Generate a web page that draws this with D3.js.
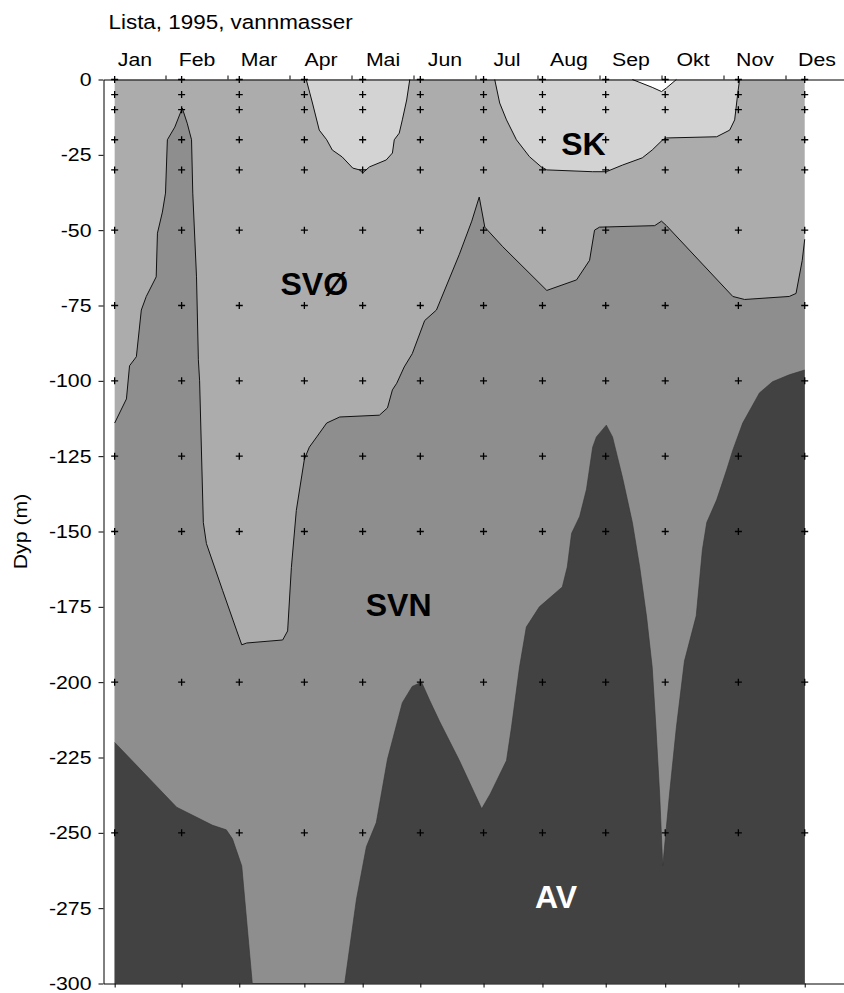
<!DOCTYPE html>
<html>
<head>
<meta charset="utf-8">
<script src="https://cdn.jsdelivr.net/npm/d3@7"></script>
<style>
  html, body { margin: 0; padding: 0; background: #fff; }
  svg { display: block; }
  text { font-family: "Liberation Sans", Arial, Helvetica, sans-serif; fill: #000; }
</style>
</head>
<body>
<svg id="chart" width="844" height="993"></svg>
<script>
// ---------------- DATA ----------------
const title = "Lista, 1995, vannmasser";
const yLabel = "Dyp (m)";
const monthLabels = ["Jan","Feb","Mar","Apr","Mai","Jun","Jul","Aug","Sep","Okt","Nov","Des"];
const depthTicks = [0,-25,-50,-75,-100,-125,-150,-175,-200,-225,-250,-275,-300];
// sampling dates as fractional month (0 = 1 Jan)
const sampleMonths = [0.18, 1.26, 2.19, 3.24, 4.18, 5.11, 6.13, 7.08, 8.10, 9.06, 10.24, 11.31];
const sampleDepths = [0,-5,-10,-20,-30,-50,-75,-100,-125,-150,-200,-250];

// upper limit of SVN (below SVØ), [month, depth]
const svnTop = [
  [0.18,-114],[0.37,-106],[0.42,-95],[0.53,-92],[0.61,-76.5],[0.69,-72],[0.85,-65.5],
  [0.87,-51],[0.95,-44],[1.00,-37.7],[1.03,-20],[1.15,-15.8],[1.27,-9.5],[1.35,-14.5],
  [1.42,-20],[1.44,-37.7],[1.50,-65.5],[1.53,-93],[1.55,-100],[1.61,-147],[1.66,-154],
  [1.92,-169.5],[2.15,-183],[2.23,-187.6],[2.31,-187],[2.89,-186],[2.97,-183],[3.03,-162],
  [3.11,-143],[3.24,-126],[3.32,-122],[3.44,-118.6],[3.60,-114],[3.81,-112],[4.45,-111.4],
  [4.58,-109],[4.66,-103],[4.73,-100.8],[4.85,-95.4],[4.98,-91],[5.18,-80],[5.37,-76.5],
  [5.74,-58],[5.94,-47],[6.06,-39],[6.15,-49],[6.44,-55.5],[7.15,-70],[7.63,-66.5],
  [7.84,-60],[7.92,-50],[8.00,-49],[8.89,-48.5],[9.00,-47],[9.08,-48.5],[10.15,-72],
  [10.34,-73],[11.06,-72],[11.17,-71],[11.27,-60],[11.31,-53]
];

// upper limit of AV (below SVN), [month, depth]
const avTop = [
  [0.18,-220],[1.18,-241.5],[1.76,-247.5],[1.98,-249],[2.08,-252],[2.23,-261],[2.40,-300],
  [3.89,-300],[4.08,-272],[4.24,-254.6],[4.40,-246.6],[4.58,-225.6],[4.82,-206.8],
  [4.98,-201.4],[5.13,-200],[5.26,-206],[5.42,-213],[5.74,-226],[6.10,-242],[6.24,-237],
  [6.50,-226],[6.58,-215],[6.71,-195],[6.82,-181.7],[7.03,-175],[7.40,-168.4],[7.48,-161.8],
  [7.55,-150.6],[7.68,-145],[7.79,-136],[7.89,-122],[7.95,-118.6],[8.11,-114.7],[8.21,-118.6],
  [8.37,-132],[8.53,-147],[8.65,-162],[8.76,-178.4],[8.85,-195],[8.91,-215],[8.97,-237],
  [9.02,-261],[9.07,-250],[9.13,-237],[9.24,-215],[9.37,-193],[9.56,-178],[9.66,-156],
  [9.73,-147],[9.89,-139.5],[10.05,-129.6],[10.15,-123],[10.31,-114],[10.58,-104],
  [10.79,-100.3],[11.06,-98],[11.31,-96.4]
];

// lower limit of SK, two lenses, [month, depth]
const skLensSpring = [
  [3.27,0],[3.37,-7.8],[3.48,-16.8],[3.60,-20],[3.69,-23.4],[3.85,-25.7],[4.02,-29.4],
  [4.13,-30],[4.18,-31],[4.29,-29],[4.56,-26.7],[4.66,-24.4],[4.69,-20],[4.77,-17.8],
  [4.82,-13.4],[4.89,-6.8],[4.94,0]
];
const skLensSummer = [
  [6.31,0],[6.39,-7.8],[6.50,-13.4],[6.66,-20],[6.87,-25.6],[7.06,-29],[7.15,-30],
  [7.89,-30.6],[8.11,-30.6],[8.37,-28.4],[8.69,-26],[8.85,-23.4],[9.02,-20],[9.08,-19.4],
  [9.89,-19],[10.10,-16.8],[10.18,-13.4],[10.23,-4.6],[10.26,0]
];
// small unclassified patch at the surface in September
const blankPatch = [[8.53,0],[8.85,-2.6],[9.00,-4],[9.08,-2.8],[9.24,0]];

// water-mass labels [name, month, depth]
const massNames = ["SVØ","SVN","SK","AV"];
const massMonths = [3.40, 4.76, 7.74, 7.30];
const massDepths = [-71.5, -178, -25, -275];

// ---------------- CHART ----------------
const colors = { SK: "#d3d3d3", SVO: "#acacac", SVN: "#8e8e8e", AV: "#424242" };
const svg = d3.select("#chart");
const x = d3.scaleLinear().domain([0, 12]).range([103.5, 847.5]);
const y = d3.scaleLinear().domain([0, -300]).range([79.5, 983.5]);
const SX = 1.15; // horizontal stretch of the reference typeface

function stretch(sel) {
  sel.each(function() {
    const t = d3.select(this);
    const tx = +t.attr("x") || 0, ty = +t.attr("y") || 0;
    t.attr("x", 0).attr("y", 0).attr("transform", `translate(${tx},${ty}) scale(${SX},1)`);
  });
}

const xStart = x(sampleMonths[0]), xEnd = x(sampleMonths[sampleMonths.length - 1]);

// base: SVØ
svg.append("rect")
  .attr("x", xStart).attr("y", y(0))
  .attr("width", xEnd - xStart).attr("height", y(-300) - y(0))
  .attr("fill", colors.SVO);

const areaBelow = d3.area().x(d => x(d[0])).y0(y(-300)).y1(d => y(d[1]));
const areaAbove = d3.area().x(d => x(d[0])).y0(y(0)).y1(d => y(d[1]));
const line = d3.line().x(d => x(d[0])).y(d => y(d[1]));

svg.append("path").datum(svnTop).attr("d", areaBelow).attr("fill", colors.SVN);
svg.append("path").datum(svnTop).attr("d", line)
  .attr("fill", "none").attr("stroke", "#111").attr("stroke-width", 1);

svg.append("path").datum(avTop).attr("d", areaBelow).attr("fill", colors.AV);
svg.append("path").datum(avTop).attr("d", line)
  .attr("fill", "none").attr("stroke", "#333").attr("stroke-width", 0.6);

[skLensSpring, skLensSummer].forEach(lens => {
  svg.append("path").datum(lens).attr("d", areaAbove).attr("fill", colors.SK);
  svg.append("path").datum(lens).attr("d", line)
    .attr("fill", "none").attr("stroke", "#111").attr("stroke-width", 1);
});
svg.append("path").datum(blankPatch).attr("d", areaAbove).attr("fill", "#fff");
svg.append("path").datum(blankPatch).attr("d", line)
  .attr("fill", "none").attr("stroke", "#111").attr("stroke-width", 1);

// sample crosses
const crosses = [];
sampleMonths.forEach(m => sampleDepths.forEach(d => crosses.push([m, d])));
svg.append("path")
  .attr("d", crosses.map(([m, d]) => {
    const cx = x(m), cy = y(d);
    return `M${cx - 3.5},${cy}h7M${cx},${cy - 3.5}v7`;
  }).join(""))
  .attr("stroke", "#000").attr("stroke-width", 1.3).attr("fill", "none");

// axes
const axisFont = "18.5px";
const leftAxis = svg.append("g").attr("transform", `translate(${x(0)},0)`)
  .call(d3.axisLeft(y).tickValues(depthTicks).tickSize(5).tickSizeOuter(0).tickPadding(7)
    .tickFormat(d => String(d)));
leftAxis.selectAll("text").style("font-size", axisFont);
stretch(leftAxis.selectAll("text"));

svg.append("g").attr("transform", `translate(0,${y(0)})`)
  .call(d3.axisTop(x).tickValues(d3.range(1, 12)).tickSize(4).tickSizeOuter(0).tickFormat(""));
const topLabels = svg.append("g").attr("transform", `translate(0,${y(0)})`)
  .call(d3.axisTop(x).tickValues(d3.range(0.5, 12, 1)).tickSize(0).tickPadding(14)
    .tickFormat((d, i) => monthLabels[i]));
topLabels.select(".domain").remove();
topLabels.selectAll("text").style("font-size", axisFont);
stretch(topLabels.selectAll("text"));

svg.append("g").attr("transform", `translate(0,${y(-300)})`)
  .call(d3.axisBottom(x).tickValues(sampleMonths).tickSize(4).tickSizeOuter(0).tickFormat(""));

svg.selectAll(".domain").attr("stroke", "#000").attr("stroke-width", 1);
svg.selectAll(".tick line").attr("stroke", "#000");

// title
svg.append("text").attr("transform", `translate(${x(0) + 5},29) scale(${SX},1)`)
  .style("font-size", "19.5px").text(title);

// y label
svg.append("text")
  .attr("transform", `translate(27,${(y(0) + y(-300)) / 2}) rotate(-90) scale(${SX},1)`)
  .attr("text-anchor", "middle").style("font-size", axisFont).text(yLabel);

// water-mass labels
svg.append("g").selectAll("text").data(massNames).join("text")
  .attr("x", (d, i) => x(massMonths[i]))
  .attr("y", (d, i) => y(massDepths[i]))
  .attr("text-anchor", "middle")
  .style("font-size", "32px").style("font-weight", "bold")
  .style("fill", d => d === "AV" ? "#fff" : "#000")
  .text(d => d);
</script>
</body>
</html>
